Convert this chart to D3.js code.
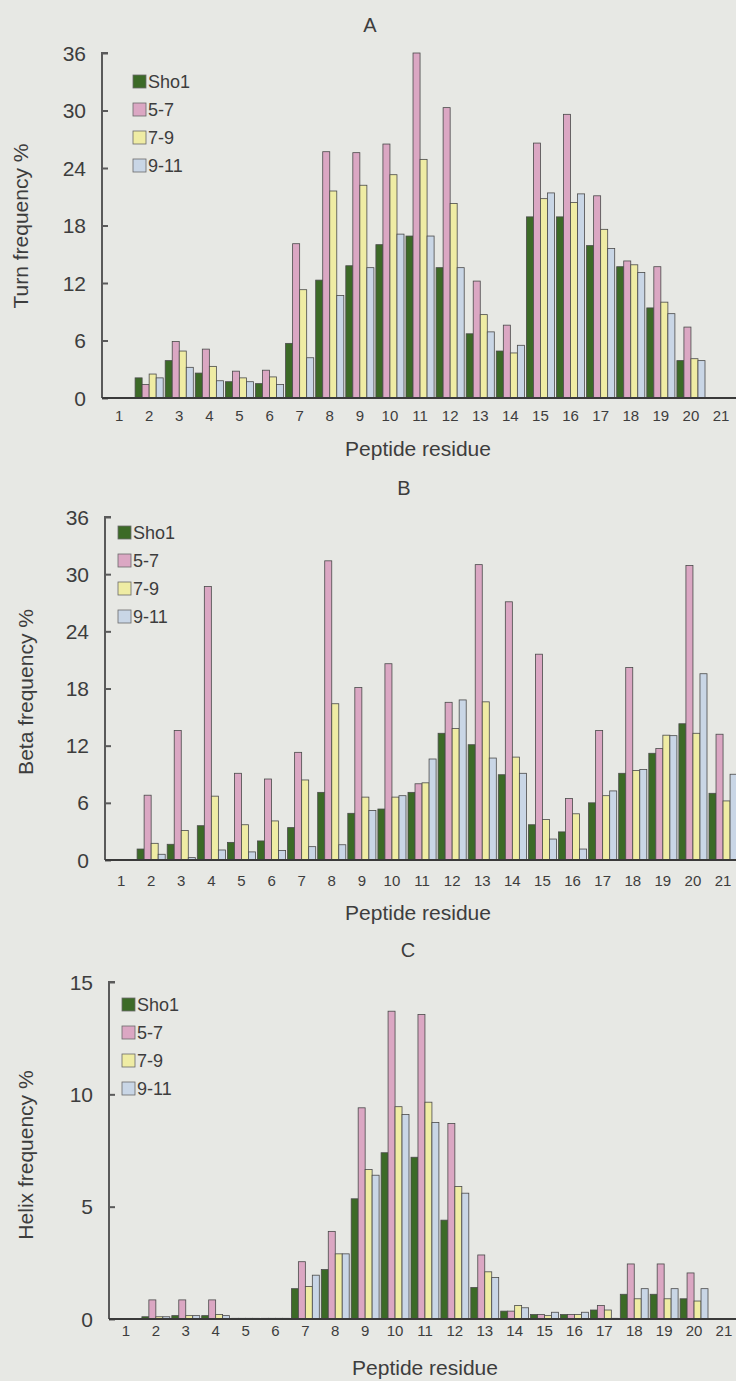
<!DOCTYPE html>
<html>
<head>
<meta charset="utf-8">
<script src="https://cdn.jsdelivr.net/npm/d3@7"></script>
<style>
  body { margin: 0; background: #e7e8e4; }
  svg { display: block; }
  text { fill: #3d3d3d; }
</style>
</head>
<body>
<div id="chart"></div>
<script>
// residues along the peptide
const residues = ["1","2","3","4","5","6","7","8","9","10","11","12","13","14","15","16","17","18","19","20","21"];
const seriesNames = ["Sho1", "5-7", "7-9", "9-11"];
const seriesColors = ["#3c6a27", "#dba7c3", "#efeca4", "#c9d6e6"];

// A: turn frequency %
const turnSho1 = [0, 2.1, 3.9, 2.6, 1.7, 1.5, 5.7, 12.3, 13.8, 16.0, 16.9, 13.6, 6.7, 4.9, 18.9, 18.9, 15.9, 13.7, 9.4, 3.9, 0];
const turn57   = [0, 1.4, 5.9, 5.1, 2.8, 2.9, 16.1, 25.7, 25.6, 26.5, 36.0, 30.3, 12.2, 7.6, 26.6, 29.6, 21.1, 14.3, 13.7, 7.4, 0];
const turn79   = [0, 2.5, 4.9, 3.3, 2.1, 2.2, 11.3, 21.6, 22.2, 23.3, 24.9, 20.3, 8.7, 4.7, 20.8, 20.4, 17.6, 13.9, 10.0, 4.1, 0];
const turn911  = [0, 2.1, 3.2, 1.8, 1.7, 1.4, 4.2, 10.7, 13.6, 17.1, 16.9, 13.6, 6.9, 5.5, 21.4, 21.3, 15.6, 13.1, 8.8, 3.9, 0];

// B: beta frequency %
const betaSho1 = [0, 1.15, 1.65, 3.6, 1.85, 2.0, 3.4, 7.1, 4.9, 5.35, 7.1, 13.3, 12.1, 8.95, 3.7, 2.95, 6.0, 9.1, 11.2, 14.3, 7.0];
const beta57   = [0, 6.8, 13.6, 28.7, 9.1, 8.5, 11.3, 31.4, 18.1, 20.6, 8.0, 16.55, 31.0, 27.1, 21.6, 6.45, 13.6, 20.2, 11.7, 30.9, 13.2];
const beta79   = [0, 1.75, 3.1, 6.7, 3.7, 4.1, 8.4, 16.4, 6.6, 6.6, 8.1, 13.8, 16.6, 10.8, 4.25, 4.85, 6.75, 9.4, 13.1, 13.3, 6.2];
const beta911  = [0, 0.6, 0.25, 1.05, 0.85, 1.0, 1.4, 1.6, 5.2, 6.75, 10.6, 16.8, 10.7, 9.1, 2.2, 1.15, 7.25, 9.5, 13.05, 19.55, 9.0];

// C: helix frequency %
const helixSho1 = [0, 0.1, 0.15, 0.15, 0.03, 0.03, 1.35, 2.2, 5.35, 7.4, 7.2, 4.4, 1.4, 0.35, 0.2, 0.2, 0.4, 1.1, 1.1, 0.9, 0];
const helix57   = [0, 0.85, 0.85, 0.85, 0.03, 0.03, 2.55, 3.9, 9.4, 13.7, 13.55, 8.7, 2.85, 0.35, 0.2, 0.2, 0.6, 2.45, 2.45, 2.05, 0];
const helix79   = [0, 0.1, 0.15, 0.2, 0.03, 0.03, 1.45, 2.9, 6.65, 9.45, 9.65, 5.9, 2.1, 0.6, 0.15, 0.2, 0.4, 0.9, 0.9, 0.8, 0];
const helix911  = [0, 0.1, 0.15, 0.15, 0.03, 0.03, 1.95, 2.9, 6.4, 9.1, 8.75, 5.6, 1.85, 0.5, 0.3, 0.3, 0.03, 1.35, 1.35, 1.35, 0];

const turnTicks = [0, 6, 12, 18, 24, 30, 36];
const betaTicks = [0, 6, 12, 18, 24, 30, 36];
const helixTicks = [0, 5, 10, 15];

const W = 736, H = 1381;
const font = "'Liberation Sans', Arial, sans-serif";

const svg = d3.select("#chart").append("svg")
    .attr("width", W)
    .attr("height", H)
    .attr("viewBox", `0 0 ${W} ${H}`);

svg.append("rect").attr("width", W).attr("height", H).attr("fill", "#e7e8e4");

var drawPanel = function(p){
    const g = svg.append("g");

    const y = d3.scaleLinear()
        .domain([0, p.ticks[p.ticks.length - 1]])
        .range([p.base, p.top]);

    const x0 = d3.scaleBand()
        .domain(residues)
        .range([p.xStart, p.xStart + p.step * residues.length]);

    const x1 = d3.scaleBand()
        .domain(seriesNames)
        .range([1, p.step - 1]);

    // bars
    residues.forEach((r, i) => {
        const grp = g.append("g").attr("transform", `translate(${x0(r)},0)`);
        p.series.forEach((vals, s) => {
            const v = vals[i];
            if(v <= 0) return;
            grp.append("rect")
                .attr("x", x1(seriesNames[s]))
                .attr("y", y(v))
                .attr("width", x1.bandwidth())
                .attr("height", y(0) - y(v))
                .attr("fill", seriesColors[s])
                .attr("stroke", "#4a4a4a")
                .attr("stroke-width", 0.8);
        });
    });

    // y axis, ticks pointing inwards
    const yAxis = d3.axisRight(y)
        .tickValues(p.ticks)
        .tickSize(6)
        .tickFormat("");
    const ya = g.append("g")
        .attr("transform", `translate(${p.axisX},0)`)
        .call(yAxis);
    ya.selectAll("line, path").attr("stroke", "#5a5a5a").attr("stroke-width", 2);
    ya.select(".domain").attr("d", `M6,${p.top}H0V${p.base}`);

    g.selectAll(".ylab")
        .data(p.ticks)
        .enter()
        .append("text")
        .attr("x", p.axisX - 16)
        .attr("y", d => y(d))
        .attr("dy", "0.36em")
        .attr("text-anchor", "end")
        .style("font-family", font)
        .style("font-size", "21px")
        .text(d => d);

    // x axis line
    g.append("line")
        .attr("x1", p.axisX).attr("x2", W)
        .attr("y1", y(0)).attr("y2", y(0))
        .attr("stroke", "#3a3a3a")
        .attr("stroke-width", 2);

    g.selectAll(".xlab")
        .data(residues)
        .enter()
        .append("text")
        .attr("x", d => x0(d) + x0.bandwidth() / 2)
        .attr("y", p.xLabY)
        .attr("text-anchor", "middle")
        .style("font-family", font)
        .style("font-size", "15px")
        .text(d => d);

    g.append("text")
        .attr("x", p.xTitleX)
        .attr("y", p.xTitleY)
        .attr("text-anchor", "middle")
        .style("font-family", font)
        .style("font-size", "21px")
        .text("Peptide residue");

    g.append("text")
        .attr("transform", `translate(${p.yTitleX},${p.yTitleY}) rotate(-90)`)
        .attr("text-anchor", "middle")
        .style("font-family", font)
        .style("font-size", "21px")
        .text(p.yTitle);

    g.append("text")
        .attr("x", p.titleX)
        .attr("y", p.titleY)
        .attr("text-anchor", "middle")
        .style("font-family", font)
        .style("font-size", "20px")
        .text(p.title);

    // legend
    seriesNames.forEach((name, s) => {
        const ly = p.legY + s * 28;
        g.append("rect")
            .attr("x", p.legX)
            .attr("y", ly - 7)
            .attr("width", 13)
            .attr("height", 13)
            .attr("fill", seriesColors[s])
            .attr("stroke", "#6a6a6a")
            .attr("stroke-width", 0.8);
        g.append("text")
            .attr("x", p.legX + 15)
            .attr("y", ly)
            .attr("dy", "0.36em")
            .style("font-family", font)
            .style("font-size", "18px")
            .text(name);
    });
};

drawPanel({
    title: "A", titleX: 370, titleY: 32,
    yTitle: "Turn frequency %", yTitleX: 28, yTitleY: 226,
    ticks: turnTicks, top: 53, base: 398, axisX: 102,
    xStart: 104, step: 30.1, xLabY: 421, xTitleX: 418, xTitleY: 456,
    legX: 133, legY: 82,
    series: [turnSho1, turn57, turn79, turn911]
});

drawPanel({
    title: "B", titleX: 404, titleY: 495,
    yTitle: "Beta frequency %", yTitleX: 33, yTitleY: 692,
    ticks: betaTicks, top: 517, base: 860, axisX: 105,
    xStart: 106, step: 30.1, xLabY: 886, xTitleX: 418, xTitleY: 920,
    legX: 118, legY: 533,
    series: [betaSho1, beta57, beta79, beta911]
});

drawPanel({
    title: "C", titleX: 408, titleY: 957,
    yTitle: "Helix frequency %", yTitleX: 33, yTitleY: 1155,
    ticks: helixTicks, top: 982, base: 1319, axisX: 109,
    xStart: 111, step: 29.9, xLabY: 1336, xTitleX: 425, xTitleY: 1375,
    legX: 122, legY: 1005,
    series: [helixSho1, helix57, helix79, helix911]
});
</script>
</body>
</html>
